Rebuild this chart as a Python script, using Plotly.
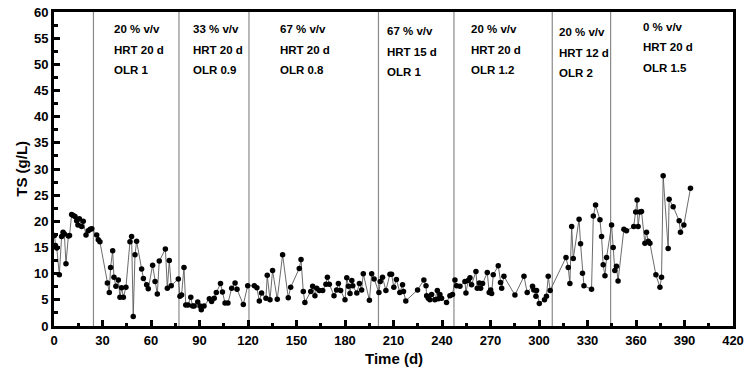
import plotly.graph_objects as go

# Total solids in the digester over the run
days = [
    0.3, 0.9, 1.7, 3.3, 4.7, 5.6, 6.4, 7.4, 8.9, 9.6, 10.9, 11.9, 13.0, 14.0, 14.8,
    15.7, 17.1, 18.1, 19.8, 21.2, 22.4, 23.4, 26.4, 27.4, 28.4, 33.0, 34.2, 35.0,
    36.3, 37.1, 38.3, 39.8, 40.8, 41.8, 42.9, 44.5, 47.0, 48.0, 49.0, 50.1, 51.1,
    54.2, 55.3, 57.3, 58.3, 61.0, 62.5, 63.9, 65.1, 68.9, 70.1, 71.3, 72.5, 76.9,
    77.9, 78.9, 80.4, 81.5, 82.9, 84.6, 85.7, 86.7, 88.9, 90.3, 91.1, 92.8, 96.1,
    97.5, 99.1, 100.4, 103.0, 104.2, 105.8, 107.6, 109.9, 112.0, 113.2, 117.1, 119.8,
    123.9, 125.5, 127.0, 128.4, 131.1, 131.9, 133.6, 135.2, 138.1, 141.4, 144.9,
    146.4, 151.7, 152.8, 154.2, 155.2, 158.8, 160.0, 161.4, 162.5, 164.1, 166.2,
    168.2, 169.1, 170.3, 173.2, 174.8, 175.9, 177.3, 180.0, 181.1, 182.1, 183.1,
    184.2, 184.8, 187.3, 188.9, 190.3, 191.3, 195.1, 196.5, 198.0,
    201.0, 201.8, 203.2, 205.3, 207.8, 208.8, 210.2, 211.8, 213.9, 215.6, 216.2,
    217.6, 224.9, 228.8, 230.1, 230.5, 231.5, 232.5, 233.6, 235.6, 237.1, 237.7,
    238.7, 239.7, 242.8, 244.9, 246.5,
    248.0, 249.0, 251.1, 254.2, 254.8, 256.2, 257.3, 258.3, 261.0, 261.8, 263.1,
    263.9, 265.1, 268.0, 269.2, 270.1, 270.7, 271.7, 274.8, 276.2, 276.9, 278.3,
    285.1, 290.7, 292.7, 296.0, 296.8, 298.1, 298.5, 300.2, 303.4, 304.6, 305.7, 306.9,
    316.7, 318.1, 319.1, 320.2, 321.2, 324.8, 325.7, 326.9, 327.8, 332.5, 333.6,
    335.0, 337.7, 338.7, 339.7, 340.8, 341.8,
    344.9, 345.9, 346.9, 347.9, 348.9, 352.5, 354.1, 358.6, 359.8, 360.7, 361.3,
    362.4, 363.4, 365.5, 366.5, 367.6, 368.6, 372.3, 374.8, 375.8, 376.8, 379.9,
    380.5, 383.0, 386.7, 387.5, 389.6, 393.7,
]
ts = [
    17.3, 15.4, 14.9, 9.8, 17.1, 17.9, 17.6, 11.9, 17.2, 17.3, 21.3, 21.1, 20.9, 20.1, 19.3,
    20.5, 19.0, 20.0, 17.4, 18.2, 18.5, 18.6, 17.4, 16.5, 16.1, 8.2, 6.4, 11.2,
    14.4, 9.3, 7.6, 8.8, 5.5, 7.3, 5.5, 7.4, 16.1, 17.1, 1.8, 13.6, 16.2,
    10.9, 9.1, 7.9, 7.1, 11.6, 8.5, 6.1, 12.4, 14.7, 7.2, 12.5, 7.7, 9.0,
    5.7, 5.9, 11.2, 4.0, 4.0, 5.5, 3.8, 3.8, 4.6, 3.8, 3.1, 3.8, 5.2,
    4.7, 5.3, 6.4, 8.1, 6.5, 4.4, 4.4, 7.2, 8.2, 7.0, 4.1, 7.7,
    7.7, 7.3, 4.8, 6.3, 5.3, 9.7, 5.0, 10.6, 5.1, 13.6, 5.4,
    7.4, 11.0, 12.7, 6.6, 4.5, 6.6, 7.6, 5.8, 7.2, 6.8, 6.8,
    8.0, 9.3, 8.0, 5.8, 6.9, 8.1, 6.8, 5.0, 9.2, 7.6, 6.2,
    8.7, 7.7, 6.3, 8.1, 6.9, 10.0, 4.9, 10.0, 9.0,
    6.4, 8.5, 9.3, 6.8, 9.9, 9.9, 7.4, 8.9, 6.4, 7.9, 6.6,
    4.8, 6.9, 8.8, 7.7, 5.8, 5.3, 5.0, 6.0, 5.0, 6.8, 5.2,
    6.0, 5.3, 4.5, 5.8, 6.0,
    8.8, 7.7, 7.6, 8.5, 6.3, 8.7, 9.2, 7.9, 10.4, 7.2, 8.2,
    7.2, 8.1, 10.2, 6.4, 6.9, 6.2, 9.8, 11.5, 8.3, 7.2, 9.5,
    5.9, 9.5, 6.4, 7.6, 6.9, 5.7, 6.8, 4.3, 5.0, 5.7, 9.5, 6.8,
    13.1, 11.2, 8.1, 19.0, 12.9, 20.4, 15.7, 10.1, 7.7, 7.0, 21.0,
    23.1, 20.3, 17.1, 11.7, 9.6, 13.1,
    19.3, 15.0, 10.6, 11.4, 8.6, 18.5, 18.2, 19.0, 21.8, 24.1, 19.0,
    21.8, 21.9, 15.8, 17.9, 16.2, 15.8, 9.8, 7.4, 9.3, 28.7, 14.8,
    24.2, 22.8, 20.1, 17.9, 19.3, 26.3,
]

# Day on which each operating period begins
period_starts = [24.4, 77.3, 120.6, 200.7, 247.4, 308.2, 344.3]

# Operating conditions of each period
period_labels = [
    ["20 % v/v", "HRT 20 d", "OLR 1"],
    ["33 % v/v", "HRT 20 d", "OLR 0.9"],
    ["67 % v/v", "HRT 20 d", "OLR 0.8"],
    ["67 % v/v", "HRT 15 d", "OLR 1"],
    ["20 % v/v", "HRT 20 d", "OLR 1.2"],
    ["20 % v/v", "HRT 12 d", "OLR 2"],
    ["0 % v/v", "HRT 20 d", "OLR 1.5"],
]
label_x = [36.0, 84.7, 138.5, 204.7, 256.6, 311.0, 363.0]
label_top = [56.75, 56.75, 56.75, 56.3, 56.75, 56.18, 57.14]

FONT = "Arial, 'Liberation Sans', sans-serif"

fig = go.Figure()
fig.add_trace(go.Scatter(
    x=days, y=ts, mode="lines+markers",
    line=dict(color="#5a5a5a", width=0.9),
    marker=dict(color="black", size=5.5),
    showlegend=False,
))

for d in period_starts:
    fig.add_shape(type="line", x0=d, x1=d, y0=0, y1=1, xref="x", yref="paper",
                  line=dict(color="#8a8a8a", width=1.2), layer="below")

for lx, ly, lines in zip(label_x, label_top, period_labels):
    for i, txt in enumerate(lines):
        fig.add_annotation(x=lx, y=ly - i * 3.92, xref="x", yref="y",
                           text="<b>" + txt + "</b>",
                           showarrow=False, xanchor="left", yanchor="middle",
                           font=dict(family=FONT, size=11.5, color="black"))

# Axis titles
fig.add_annotation(x=0.5, y=-0.102, xref="paper", yref="paper", text="<b>Time (d)</b>",
                   showarrow=False, xanchor="center", yanchor="middle",
                   font=dict(family=FONT, size=15, color="black"))
fig.add_annotation(x=-0.049, y=0.5, xref="paper", yref="paper", text="<b>TS (g/L)</b>",
                   showarrow=False, xanchor="center", yanchor="middle", textangle=-90,
                   font=dict(family=FONT, size=15, color="black"))

axis_common = dict(
    showline=True, linewidth=3, linecolor="black", mirror=True,
    ticks="inside", tickwidth=2.5, tickcolor="black", ticklen=6,
    showgrid=False, zeroline=False, automargin=False,
    tickfont=dict(family=FONT, size=13, color="black"),
    tickprefix="<b>", ticksuffix="</b>",
)

fig.update_xaxes(range=[0, 420], dtick=30, tick0=0,
                 minor=dict(ticks="inside", dtick=15, tick0=0, ticklen=3.5,
                            tickwidth=2.5, tickcolor="black", showgrid=False),
                 **axis_common)
fig.update_yaxes(range=[0, 60], dtick=5, tick0=0,
                 minor=dict(ticks="inside", dtick=2.5, tick0=0, ticklen=3.5,
                            tickwidth=2.5, tickcolor="black", showgrid=False),
                 **axis_common)

fig.update_layout(
    width=744, height=378,
    margin=dict(l=54, r=11, t=12, b=52),
    plot_bgcolor="white", paper_bgcolor="white",
    font=dict(family=FONT, color="black"),
)

fig.write_html("out.html")
